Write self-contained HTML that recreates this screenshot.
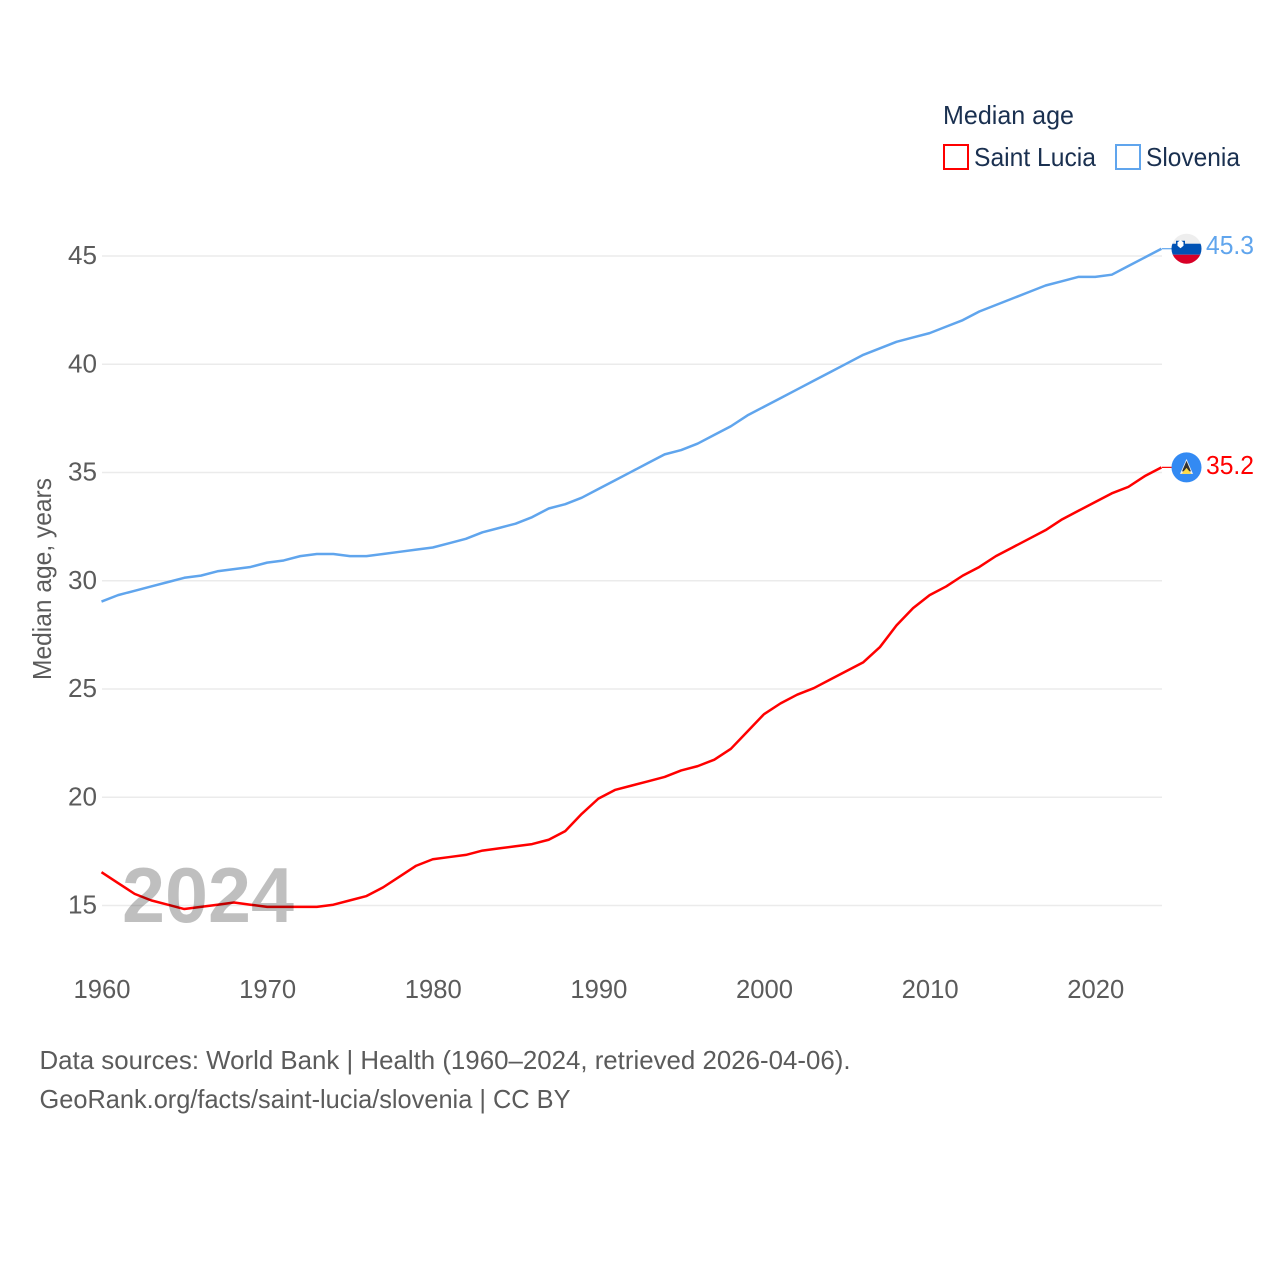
<!DOCTYPE html>
<html lang="en">
<head>
<meta charset="utf-8">
<title>Median age: Saint Lucia and Slovenia</title>
<style>
html,body{margin:0;padding:0;background:#fff;}
svg{display:block;font-family:"Liberation Sans",sans-serif;}
text{font-size:26px;fill:#5b5b5b;}
</style>
</head>
<body>
<svg id="chart" width="1280" height="1280" viewBox="0 0 1280 1280" xmlns="http://www.w3.org/2000/svg">
  <defs>
    <clipPath id="flag-clip"><circle cx="0" cy="0" r="15"/></clipPath>
  </defs>
  <g id="grid"></g>
  <g id="y-ticks"></g>
  <g id="x-ticks"></g>
  <text transform="translate(51,680) rotate(-90)" textLength="202" lengthAdjust="spacingAndGlyphs">Median age, years</text>
  <g id="series"></g>
  <text x="122" y="922" textLength="172" lengthAdjust="spacingAndGlyphs" style="font-size:78px;font-weight:bold;fill:#000;fill-opacity:.25">2024</text>
  <g id="ends"></g>

  <g>
    <text x="943" y="124" textLength="131" lengthAdjust="spacingAndGlyphs" style="fill:#1a3050">Median age</text>
    <rect x="944" y="145" width="24" height="24" fill="none" stroke="#ff0000" stroke-width="2"/>
    <text x="974" y="166" textLength="122" lengthAdjust="spacingAndGlyphs" style="fill:#1a3050">Saint Lucia</text>
    <rect x="1116" y="145" width="24" height="24" fill="none" stroke="#60a5ed" stroke-width="2"/>
    <text x="1146" y="166" textLength="94" lengthAdjust="spacingAndGlyphs" style="fill:#1a3050">Slovenia</text>
  </g>

  <text x="39.5" y="1069" textLength="811" lengthAdjust="spacingAndGlyphs">Data sources: World Bank | Health (1960–2024, retrieved 2026-04-06).</text>
  <text x="39.5" y="1108" textLength="531" lengthAdjust="spacingAndGlyphs">GeoRank.org/facts/saint-lucia/slovenia | CC BY</text>
</svg>
<script>
const yTickValues = [15, 20, 25, 30, 35, 40, 45];
const xTickValues = [1960, 1970, 1980, 1990, 2000, 2010, 2020];
const firstYear = 1960;
const lastYear = 2024;
const saintLuciaValues = [16.5,16.0,15.5,15.2,15.0,14.8,14.9,15.0,15.1,15.0,14.9,14.9,14.9,14.9,15.0,15.2,15.4,15.8,16.3,16.8,17.1,17.2,17.3,17.5,17.6,17.7,17.8,18.0,18.4,19.2,19.9,20.3,20.5,20.7,20.9,21.2,21.4,21.7,22.2,23.0,23.8,24.3,24.7,25.0,25.4,25.8,26.2,26.9,27.9,28.7,29.3,29.7,30.2,30.6,31.1,31.5,31.9,32.3,32.8,33.2,33.6,34.0,34.3,34.8,35.2];
const sloveniaValues = [29.0,29.3,29.5,29.7,29.9,30.1,30.2,30.4,30.5,30.6,30.8,30.9,31.1,31.2,31.2,31.1,31.1,31.2,31.3,31.4,31.5,31.7,31.9,32.2,32.4,32.6,32.9,33.3,33.5,33.8,34.2,34.6,35.0,35.4,35.8,36.0,36.3,36.7,37.1,37.6,38.0,38.4,38.8,39.2,39.6,40.0,40.4,40.7,41.0,41.2,41.4,41.7,42.0,42.4,42.7,43.0,43.3,43.6,43.8,44.0,44.0,44.1,44.5,44.9,45.3];

const NS = 'http://www.w3.org/2000/svg';
function xScale(year) { return 101.5 + (year - firstYear) * (1161.5 - 101.5) / (lastYear - firstYear); }
function yScale(v) { return 905.5 - (v - 15) * 21.65; }
function lineY(v) { return yScale(v) - 0.8; }
function make(tag, attrs, parent, text) {
  const el = document.createElementNS(NS, tag);
  Object.keys(attrs).forEach(function (k) { el.setAttribute(k, attrs[k]); });
  if (text !== undefined) el.textContent = text;
  parent.appendChild(el);
  return el;
}

const grid = document.getElementById('grid');
const yTicks = document.getElementById('y-ticks');
yTickValues.forEach(function (v) {
  const line = make('line', {x1: 102, x2: 1162, y1: yScale(v), y2: yScale(v), stroke: '#ebebeb', 'stroke-width': 1.5}, grid);
  
  
  const label = make('text', {x: 97, y: yScale(v) + 8, 'text-anchor': 'end', textLength: 29, lengthAdjust: 'spacingAndGlyphs'}, yTicks, String(v));
  
  
});

const xTicks = document.getElementById('x-ticks');
xTickValues.forEach(function (year) {
  const label = make('text', {x: xScale(year) + 0.5, y: 998, 'text-anchor': 'middle', textLength: 57, lengthAdjust: 'spacingAndGlyphs'}, xTicks, String(year));
  
  
});

function linePoints(values) {
  return values.map(function (v, i) {
    return xScale(firstYear + i).toFixed(2) + ',' + lineY(v).toFixed(2);
  }).join(' ');
}
const seriesGroup = document.getElementById('series');
const sloveniaLine = make('polyline', {points: linePoints(sloveniaValues), fill: 'none', stroke: '#60a5ed', 'stroke-width': 2.5, 'stroke-linejoin': 'round'}, seriesGroup);


const luciaLine = make('polyline', {points: linePoints(saintLuciaValues), fill: 'none', stroke: '#ff0000', 'stroke-width': 2.5, 'stroke-linejoin': 'round'}, seriesGroup);



const ends = document.getElementById('ends');
const slY = lineY(sloveniaValues[sloveniaValues.length - 1]);
const lcY = lineY(saintLuciaValues[saintLuciaValues.length - 1]);

const slConnector = make('line', {x1: 1162, x2: 1172, y1: slY, y2: slY, stroke: '#60a5ed', 'stroke-width': 1.2}, ends);


const lcConnector = make('line', {x1: 1162, x2: 1172, y1: lcY, y2: lcY, stroke: '#ff0000', 'stroke-width': 1.2}, ends);



const slFlag = make('g', {transform: 'translate(1186.5,' + slY + ')', 'clip-path': 'url(#flag-clip)'}, ends);


make('rect', {x: -15, y: -16, width: 30, height: 11, fill: '#eeeeee'}, slFlag);
make('rect', {x: -15, y: -5, width: 30, height: 11, fill: '#0052b4'}, slFlag);
make('rect', {x: -15, y: 6, width: 30, height: 10, fill: '#d80027'}, slFlag);
make('path', {d: 'M-10.5,-8 h9 v5 l-4.5,3.5 l-4.5,-3.5 z', fill: '#0052b4'}, slFlag);
make('path', {d: 'M-9,-6.5 l1.5,-1 l1.5,-1.5 l1.5,1.5 l1.5,1 v3.5 l-3,2.5 l-3,-2.5 z', fill: '#ffffff'}, slFlag);

const lcFlag = make('g', {transform: 'translate(1186.5,' + lcY + ')', 'clip-path': 'url(#flag-clip)'}, ends);


make('rect', {x: -15, y: -16, width: 30, height: 32, fill: '#338af3'}, lcFlag);
make('path', {d: 'M0,-8.5 L6.5,6.5 H-6.5 Z', fill: '#f0f0f0'}, lcFlag);
make('path', {d: 'M0,-6.5 L4.5,4 H-4.5 Z', fill: '#333333'}, lcFlag);
make('path', {d: 'M0,0.5 L5,6.5 H-5 Z', fill: '#ffda44'}, lcFlag);

const slLabel = make('text', {x: 1206, y: slY + 5.5, textLength: 48, lengthAdjust: 'spacingAndGlyphs', style: 'fill:#60a5ed'}, ends, sloveniaValues[sloveniaValues.length - 1].toFixed(1));


const lcLabel = make('text', {x: 1206, y: lcY + 6.5, textLength: 48, lengthAdjust: 'spacingAndGlyphs', style: 'fill:#ff0000'}, ends, saintLuciaValues[saintLuciaValues.length - 1].toFixed(1));


</script>
</body>
</html>
